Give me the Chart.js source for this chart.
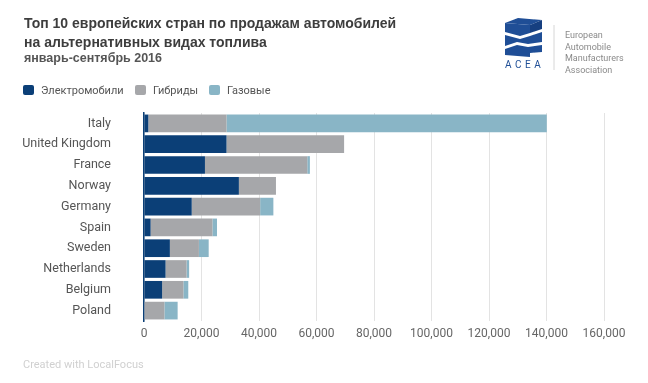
<!DOCTYPE html>
<html>
<head>
<meta charset="utf-8">
<script src="https://cdn.jsdelivr.net/npm/chart.js@4"></script>
<style>
  html, body { margin: 0; padding: 0; background: #fff; }
  #wrap { position: relative; width: 648px; height: 383px; overflow: hidden; }
  #chart { position: absolute; left: 0; top: 0; }
  .title { position: absolute; left: 24px; top: 14px; font: bold 14px "Liberation Sans", Arial, sans-serif; color: #3d3d3d; line-height: 19px; }
  .sub { position: absolute; left: 24px; top: 51px; font: bold 12.5px "Liberation Sans", Arial, sans-serif; color: #555; }
  .legend { position: absolute; left: 23px; top: 84px; font: 11px Roboto, sans-serif; color: #555; }
  .legend span.item { position: absolute; white-space: nowrap; top: 0; }
  .legend i { display: inline-block; width: 11px; height: 10px; border-radius: 2px; vertical-align: -1px; margin-right: 7px; }
  .footer { position: absolute; left: 23px; top: 358px; font: 11px Roboto, sans-serif; color: #d0d0d0; }
  .logo { position: absolute; left: 500px; top: 15px; }
  .acea { position: absolute; left: 565px; top: 30px; font: 9px Roboto, sans-serif; color: #8a8a8a; line-height: 11.5px; }
</style>
</head>
<body>
<div id="wrap">
  <canvas id="chart" width="648" height="383"></canvas>
  <div class="title">Топ 10 европейских стран по продажам автомобилей<br>на альтернативных видах топлива</div>
  <div class="sub">январь-сентябрь 2016</div>
  <div class="legend" id="legend"></div>
  <svg class="logo" width="60" height="60" viewBox="0 0 60 60">
    <polygon points="5,8 18,3 42,5 30,10" fill="#1f4e96"/>
    <polygon points="5,8 30,10 30,18 20,21 5,17" fill="#1f4e96"/>
    <polygon points="30,10 42,5 42,14 30,18" fill="#163f80"/>
    <polygon points="5,20 20,24 30,21 42,17 42,27 28,29 17,27 5,31" fill="#1f4e96"/>
    <polygon points="5,34 17,30 28,32 42,30 42,37 30,38 30,42 5,40" fill="#1f4e96"/>
    <text x="5" y="53" font-family="Roboto, sans-serif" font-size="10" fill="#1f4e96" letter-spacing="3.5">ACEA</text>
    <line x1="54" y1="10" x2="54" y2="55" stroke="#d6d6d6" stroke-width="1"/>
  </svg>
  <div class="acea">European<br>Automobile<br>Manufacturers<br>Association</div>
  <div class="footer">Created with LocalFocus</div>
</div>
<script>
const countries = ['Italy', 'United Kingdom', 'France', 'Norway', 'Germany', 'Spain', 'Sweden', 'Netherlands', 'Belgium', 'Poland'];
const seriesNames = ['Электромобили', 'Гибриды', 'Газовые'];
const seriesColors = ['#0b3f77', '#a6a7aa', '#89b5c6'];
const electric = [1500, 28700, 21200, 33000, 16600, 2300, 9000, 7500, 6300, 200];
const hybrid = [27200, 40900, 35600, 12900, 23800, 21500, 10100, 7300, 7400, 6900];
const gas = [111400, 0, 900, 0, 4600, 1600, 3400, 900, 1700, 4600];
const xTicks = [0, 20000, 40000, 60000, 80000, 100000, 120000, 140000, 160000];

const values = [electric, hybrid, gas];
const legendLeft = [0, 112, 186];

// legend (HTML)
const legend = document.getElementById('legend');
seriesNames.forEach((name, i) => {
  const s = document.createElement('span');
  s.className = 'item';
  s.style.left = legendLeft[i] + 'px';
  s.innerHTML = '<i style="background:' + seriesColors[i] + '"></i>' + name;
  legend.appendChild(s);
});

new Chart(document.getElementById('chart'), {
  type: 'bar',
  data: {
    labels: countries,
    datasets: seriesNames.map((name, i) => ({
      label: name,
      data: values[i],
      backgroundColor: seriesColors[i],
      borderWidth: 0,
      barPercentage: 1,
      categoryPercentage: 0.85
    }))
  },
  options: {
    indexAxis: 'y',
    responsive: false,
    animation: false,
    layout: { padding: { top: 113, right: 44, bottom: 0, left: 0 } },
    plugins: { legend: { display: false }, tooltip: { enabled: false } },
    scales: {
      x: {
        stacked: true,
        min: 0,
        max: 160000,
        afterBuildTicks: axis => { axis.ticks = xTicks.map(v => ({ value: v })); },
        afterFit: axis => { axis.height = 62; },
        grid: { color: '#e3e3e3', drawTicks: false, lineWidth: 1 },
        border: { display: false },
        ticks: {
          padding: 6,
          color: '#666',
          font: { family: 'Roboto', size: 12 },
          callback: v => v.toLocaleString('en-US')
        }
      },
      y: {
        stacked: true,
        afterFit: axis => { axis.width = 144; },
        grid: { display: false, drawTicks: false },
        border: { display: true, color: '#0b3f77', width: 1.5 },
        ticks: {
          padding: 33,
          color: '#555',
          font: { family: 'Roboto', size: 12.5 }
        }
      }
    }
  }
});
</script>
</body>
</html>
